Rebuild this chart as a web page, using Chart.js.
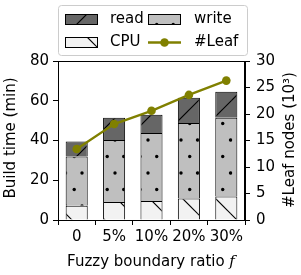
<!DOCTYPE html>
<html>
<head>
<meta charset="utf-8">
<script src="https://cdn.jsdelivr.net/npm/chart.js@4/dist/chart.umd.min.js"></script>
<style>
  body { margin: 0; background: #fff; }
  #box { width: 301px; height: 275px; }
</style>
</head>
<body>
<div id="box"><canvas id="myChart"></canvas></div>
<script>
// Data
const categories = ['0', '5%', '10%', '20%', '30%'];
const cpuTime = [7.2, 9.0, 9.5, 10.8, 11.8];      // min
const writeTime = [24.8, 31.3, 34.3, 38.0, 39.7]; // min
const readTime = [7.5, 11.2, 9.2, 12.7, 13.0];    // min
const leafNodes = [13.4, 18.1, 20.6, 23.6, 26.3]; // x10^3
const leftTicks = [0, 20, 40, 60, 80];
const rightTicks = [0, 5, 10, 15, 20, 25, 30];

const FONT = 'DejaVu Sans';
const OLIVE = '#808000';

// Build a hatch pattern (anchored to the canvas origin like matplotlib)
function hatch(bg, kind) {
  const c = document.createElement('canvas');
  c.width = 33; c.height = 33;
  const g = c.getContext('2d');
  g.fillStyle = bg;
  g.fillRect(0, 0, 33, 33);
  g.strokeStyle = '#000';
  g.fillStyle = '#000';
  g.lineWidth = 1.2;
  if (kind === '/') {
    [2, 35, 68].forEach(k => {
      g.beginPath(); g.moveTo(k + 3, -3); g.lineTo(-3, k + 3); g.stroke();
    });
  } else if (kind === '\\') {
    [17, -16].forEach(k => {
      g.beginPath(); g.moveTo(k - 3, -3); g.lineTo(k + 36, 36); g.stroke();
    });
  } else if (kind === '.') {
    const dots = [[-0.5, 8], [16, 8], [32.5, 8], [8.2, 24.5], [24.7, 24.5], [8.2, -8.5], [24.7, -8.5], [-0.5, 41], [16, 41], [32.5, 41]];
    dots.forEach(d => {
      g.beginPath(); g.arc(d[0], d[1], 1.7, 0, Math.PI * 2); g.fill();
    });
  }
  return g.createPattern(c, 'repeat');
}

const cpuFill = hatch('#f2f2f2', '\\');
const writeFill = hatch('#bfbfbf', '.');
const readFill = hatch('#666666', '/');

// Frame, legend and axis titles
const decor = {
  id: 'decor',
  afterDraw(chart) {
    const ctx = chart.ctx;
    const a = chart.chartArea;
    ctx.save();
    ctx.strokeStyle = '#000';
    ctx.lineWidth = 1;
    ctx.strokeRect(Math.round(a.left) + 0.5, Math.round(a.top) + 0.5,
      Math.round(a.right - a.left) - 1, Math.round(a.bottom - a.top));

    // legend box
    ctx.beginPath();
    ctx.roundRect(58.5, 5.5, 189, 50, 3);
    ctx.fillStyle = 'rgba(255,255,255,0.8)';
    ctx.fill();
    ctx.strokeStyle = '#cccccc';
    ctx.stroke();

    const rows = [19.5, 42.5];
    const patch = (x, y, fill) => {
      ctx.fillStyle = fill;
      ctx.fillRect(x, y - 5.5, 33, 11);
      ctx.strokeStyle = '#000';
      ctx.lineWidth = 1;
      ctx.strokeRect(x + 0.5, y - 5, 32, 10);
    };
    patch(65, rows[0], readFill);
    patch(148, rows[0], writeFill);
    patch(65, rows[1], cpuFill);
    ctx.strokeStyle = OLIVE;
    ctx.lineWidth = 2.3;
    ctx.beginPath(); ctx.moveTo(148, rows[1]); ctx.lineTo(181, rows[1]); ctx.stroke();
    ctx.fillStyle = OLIVE;
    ctx.beginPath(); ctx.arc(164.5, rows[1], 4.3, 0, Math.PI * 2); ctx.fill();

    ctx.fillStyle = '#000';
    ctx.font = '15px "' + FONT + '"';
    ctx.textBaseline = 'middle';
    ctx.textAlign = 'left';
    ctx.fillText('read', 110, rows[0]);
    ctx.fillText('write', 194, rows[0]);
    ctx.fillText('CPU', 110, rows[1]);
    ctx.fillText('#Leaf', 194, rows[1]);

    // x title with italic f
    const t1 = 'Fuzzy boundary ratio ';
    const w1 = ctx.measureText(t1).width;
    ctx.font = 'italic 15px "DejaVu Serif"';
    const w2 = ctx.measureText('f').width;
    const x0 = 151 - (w1 + w2) / 2;
    ctx.fillText('f', x0 + w1, 262);
    ctx.font = '15px "' + FONT + '"';
    ctx.fillText(t1, x0, 262);

    // y titles, both reading bottom to top
    ctx.textAlign = 'center';
    ctx.save();
    ctx.translate(11, 138);
    ctx.rotate(-Math.PI / 2);
    ctx.fillText('Build time (min)', 0, 0);
    ctx.restore();
    ctx.save();
    ctx.translate(290, 140);
    ctx.rotate(-Math.PI / 2);
    ctx.fillText('#Leaf nodes (10³)', 0, 0);
    ctx.restore();
    ctx.restore();
  }
};

const tickFont = { family: FONT, size: 15 };

const myChart = new Chart(document.getElementById('myChart'), {
  data: {
    labels: categories,
    datasets: [
      {
        type: 'line', label: '#Leaf', data: leafNodes, yAxisID: 'y1', order: 0,
        borderColor: OLIVE, backgroundColor: OLIVE, borderWidth: 2.3,
        pointRadius: 4.3, pointBackgroundColor: OLIVE, pointBorderWidth: 0
      },
      {
        type: 'bar', label: 'CPU', data: cpuTime, yAxisID: 'y', order: 1,
        backgroundColor: cpuFill, borderColor: '#000', borderWidth: 1
      },
      {
        type: 'bar', label: 'write', data: writeTime, yAxisID: 'y', order: 1,
        backgroundColor: writeFill, borderColor: '#000', borderWidth: 1
      },
      {
        type: 'bar', label: 'read', data: readTime, yAxisID: 'y', order: 1,
        backgroundColor: readFill, borderColor: '#000', borderWidth: 1
      }
    ]
  },
  options: {
    responsive: true,
    maintainAspectRatio: false,
    animation: false,
    layout: { padding: { top: 61, left: 0, right: 0, bottom: 0 } },
    datasets: { bar: { categoryPercentage: 1, barPercentage: 0.59 } },
    plugins: { legend: { display: false }, tooltip: { enabled: false } },
    scales: {
      x: {
        stacked: true,
        grid: { display: true, drawOnChartArea: false, tickLength: 5, tickColor: '#000' },
        border: { display: true, color: '#000' },
        ticks: { color: '#000', font: tickFont, padding: 3, maxRotation: 0, autoSkip: false },
        afterFit: s => { s.height = 55; }
      },
      y: {
        stacked: true, position: 'left', min: 0, max: 80,
        afterBuildTicks: s => { s.ticks = leftTicks.map(v => ({ value: v })); },
        grid: { display: true, drawOnChartArea: false, tickLength: 5, tickColor: '#000' },
        border: { display: true, color: '#000' },
        ticks: { color: '#000', font: tickFont, padding: 4 },
        afterFit: s => { s.width = 58; }
      },
      y1: {
        position: 'right', min: 0, max: 30,
        afterBuildTicks: s => { s.ticks = rightTicks.map(v => ({ value: v })); },
        grid: { display: true, drawOnChartArea: false, tickLength: 5, tickColor: '#000' },
        border: { display: true, color: '#000' },
        ticks: { color: '#000', font: tickFont, padding: 6 },
        afterFit: s => { s.width = 56; }
      }
    }
  },
  plugins: [decor]
});
</script>
</body>
</html>
